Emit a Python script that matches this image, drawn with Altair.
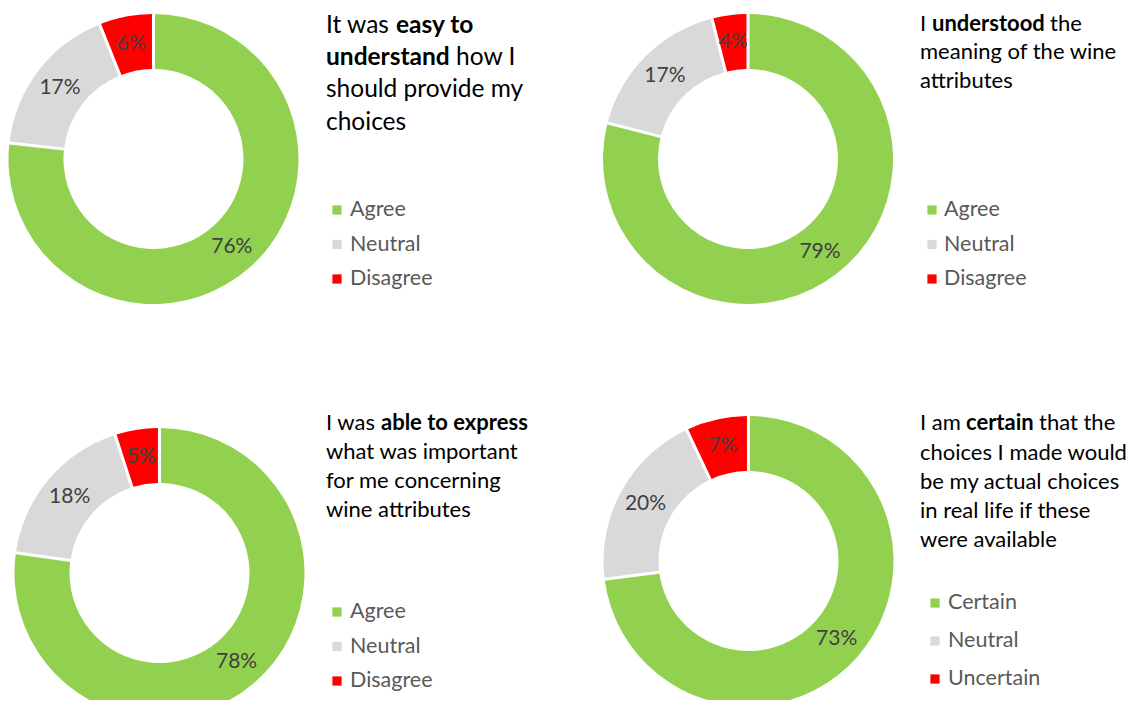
import altair as alt
import pandas as pd

FONT = "Lato"

# ---------------- data ----------------
keys = ["pos", "neu", "neg"]
colors = ["#92D050", "#D9D9D9", "#FF0000"]
cats_agree = ["Agree", "Neutral", "Disagree"]
cats_certain = ["Certain", "Neutral", "Uncertain"]

vals1 = [76, 17, 6]
vals2 = [79, 17, 4]
vals3 = [78, 18, 5]
vals4 = [73, 20, 7]

# title text: lines -> segments, with bold flags
title1 = [["It was", "easy to"], ["understand", "how I"], ["should provide my"], ["choices"]]
bold1 = [[False, True], [True, False], [False], [False]]
title2 = [["I", "understood", "the"], ["meaning of the wine"], ["attributes"]]
bold2 = [[False, True, False], [False], [False]]
title3 = [["I was", "able to express"], ["what was important"], ["for me concerning"], ["wine attributes"]]
bold3 = [[False, True], [False], [False], [False]]
title4 = [["I am", "certain", "that the"], ["choices I made would"], ["be my actual choices"],
          ["in real life if these"], ["were available"]]
bold4 = [[False, True, False], [False], [False], [False], [False]]

# ---------------- layout (page pixel positions) ----------------
MX = 8  # page margin (x)
MY = 8  # page margin (y)
layout = [
    dict(vals=vals1, cats=cats_agree, title=title1, bold=bold1, cx=153.5, cy=159,
         seg_x=[[326, 396], [326, 456], [326], [326]], base=[33, 65.2, 97.4, 129.6], tfs=24.5,
         sq_x=337, lt_x=350, leg_y=[210, 279]),
    dict(vals=vals2, cats=cats_agree, title=title2, bold=bold2, cx=748, cy=159,
         seg_x=[[920, 932, 1050], [920], [920]], base=[30.5, 59, 87.5], tfs=22,
         sq_x=932, lt_x=944, leg_y=[210, 279]),
    dict(vals=vals3, cats=cats_agree, title=title3, bold=bold3, cx=159.5, cy=573,
         seg_x=[[326, 381], [326], [326], [326]], base=[430, 459, 488, 517], tfs=22,
         sq_x=337, lt_x=350, leg_y=[612, 681]),
    dict(vals=vals4, cats=cats_certain, title=title4, bold=bold4, cx=748.5, cy=561,
         seg_x=[[920, 966, 1039], [920], [920], [920], [920]], base=[430, 459.5, 489, 518, 547], tfs=22,
         sq_x=935, lt_x=948, leg_y=[603, 679]),
]

color_enc = alt.Color("key:N", scale=alt.Scale(domain=keys, range=colors), legend=None)

layers = []
for p in layout:
    df = pd.DataFrame({
        "cat": p["cats"],
        "key": keys,
        "value": p["vals"],
        "order": [0, 1, 2],
        "label": [f"{v}%" for v in p["vals"]],
    })
    cx, cy = p["cx"] - MX, p["cy"] - MY
    base = alt.Chart(df).encode(
        theta=alt.Theta("value:Q", stack=True),
        order=alt.Order("order:Q"),
    )
    arc = base.mark_arc(innerRadius=90, outerRadius=145, padAngle=0.018).encode(
        color=color_enc, x=alt.value(cx), y=alt.value(cy)
    )
    lab = base.mark_text(radius=117.5, fontSize=21, color="#404040", font=FONT).encode(
        text="label:N", x=alt.value(cx), y=alt.value(cy)
    )
    layers += [arc, lab]

    # legend
    leg = alt.Chart(df).encode(
        y=alt.Y("order:O",
                scale=alt.Scale(type="point", range=[p["leg_y"][0] - MY, p["leg_y"][1] - MY], padding=0),
                axis=None)
    )
    sq = leg.mark_square(size=85, opacity=1, filled=True).encode(x=alt.value(p["sq_x"] - MX), color=color_enc)
    lt = leg.mark_text(align="left", baseline="middle", fontSize=21.5, color="#595959", font=FONT).encode(
        x=alt.value(p["lt_x"] - MX), text="cat:N"
    )
    layers += [sq, lt]

    # title segments
    for li, line in enumerate(p["title"]):
        for si, seg in enumerate(line):
            t = alt.Chart(pd.DataFrame({"t": [seg]})).mark_text(
                align="left", baseline="alphabetic", fontSize=p["tfs"], font=FONT,
                fontWeight="bold" if p["bold"][li][si] else "normal", color="#000000"
            ).encode(text="t:N", x=alt.value(p["seg_x"][li][si] - MX), y=alt.value(p["base"][li] - MY))
            layers.append(t)

chart = alt.layer(*layers).resolve_scale(theta="independent", y="independent").properties(
    width=1119, height=692, padding=0,
    autosize=alt.AutoSizeParams(type="none")
).configure_view(stroke=None)

chart.save("out.html", embed_options={"renderer": "svg", "actions": False})
